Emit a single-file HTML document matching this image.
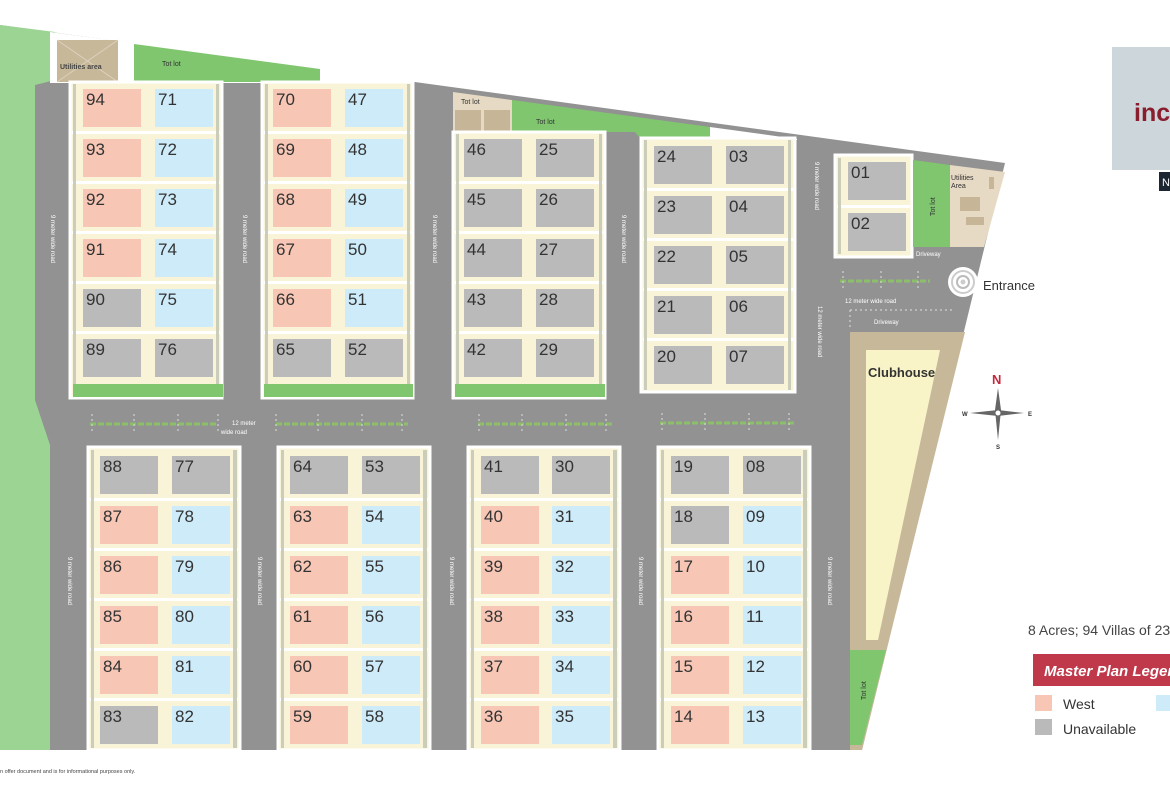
<!DOCTYPE html>
<html><head><meta charset="utf-8"><style>
html,body{margin:0;padding:0;background:#fff;}
svg{display:block;font-family:"Liberation Sans",sans-serif;}
.w{fill:#f7c6b5}.e{fill:#cdebf9}.g{fill:#bababa}
.n{font-size:17px;fill:#333;}
.cr{fill:#f9f4d8;stroke:#fff;stroke-width:3}
.rl{fill:#fff;font-size:6px}
.sep{fill:#fff}
.med{stroke:#8cbf6a;stroke-width:3;stroke-dasharray:6 2}
</style></head><body>
<svg width="1170" height="785" viewBox="0 0 1170 785">
<polygon points="0,25 1005,163 862,750 0,750" fill="#929292"/>
<polygon points="0,25 55,32 55,80 35,85 35,400 50,445 50,750 0,750" fill="#9bd493"/>
<polygon points="50,32 412,80 412,83 50,83" fill="#fff"/>
<rect x="57" y="40" width="61" height="42" fill="#c8b89a"/>
<g stroke="#ddd2bd" stroke-width="1"><line x1="57" y1="40" x2="118" y2="82"/><line x1="118" y1="40" x2="57" y2="82"/></g>
<text x="60" y="69" font-size="7" font-weight="bold" fill="#444">Utilities area</text>
<polygon points="134,44 320,69 320,82 134,82" fill="#7fc66f"/>
<text x="162" y="66" font-size="7" fill="#333">Tot lot</text>
<polygon points="453,92 512,100 512,132 453,132" fill="#e6dac4"/>
<rect x="455" y="110" width="26" height="21" fill="#c6b597"/><rect x="484" y="110" width="26" height="21" fill="#c6b597"/>
<text x="461" y="104" font-size="7" fill="#333">Tot lot</text>
<polygon points="512,100 710,127 710,138 640,138 635,132 512,132" fill="#7fc66f"/>
<text x="536" y="124" font-size="7" fill="#333">Tot lot</text>
<polygon points="710,127 797,139 797,140 710,140" fill="#fff"/>
<rect class="cr" x="70" y="82" width="152" height="316"/>
<rect x="73" y="384" width="150" height="13" fill="#7fc66f"/>
<rect class="cr" x="262" y="82" width="151" height="316"/>
<rect x="264" y="384" width="149" height="13" fill="#7fc66f"/>
<rect class="cr" x="453" y="132" width="152" height="266"/>
<rect x="455" y="384" width="150" height="13" fill="#7fc66f"/>
<rect class="cr" x="641" y="138" width="154" height="254"/>
<rect class="cr" x="835" y="155" width="77" height="102"/>
<polygon points="913,160 950,165 950,247 913,247" fill="#7fc66f"/>
<text transform="translate(935,216) rotate(-90)" font-size="7" fill="#333">Tot lot</text>
<polygon points="950,165 1005,172 984,247 950,247" fill="#e6dac4"/>
<rect x="960" y="197" width="20" height="14" fill="#c6b597"/><rect x="966" y="217" width="18" height="8" fill="#c6b597"/>
<rect x="989" y="177" width="5" height="12" fill="#c6b597"/>
<text x="951" y="180" font-size="7" fill="#333">Utilities</text><text x="951" y="188" font-size="7" fill="#333">Area</text>
<polygon points="850,332 965,332 862,750 850,750" fill="#c8b89a"/>
<polygon points="866,350 940,350 878,640 866,640" fill="#f9f4c8"/>
<text x="868" y="377" font-size="13" font-weight="bold" fill="#333">Clubhouse</text>
<polygon points="850,650 886,650 862,745 850,745" fill="#7fc66f"/>
<text transform="translate(866,700) rotate(-90)" font-size="7" fill="#333">Tot lot</text>
<rect class="cr" x="88" y="447" width="152" height="303"/>
<rect class="cr" x="278" y="447" width="152" height="303"/>
<rect class="cr" x="468" y="447" width="152" height="303"/>
<rect class="cr" x="658" y="447" width="152" height="303"/>
<g class="sep">
<rect x="72" y="131" width="148" height="3"/><rect x="72" y="181" width="148" height="3"/><rect x="72" y="231" width="148" height="3"/><rect x="72" y="281" width="148" height="3"/><rect x="72" y="331" width="148" height="3"/>
<rect x="264" y="131" width="147" height="3"/><rect x="264" y="181" width="147" height="3"/><rect x="264" y="231" width="147" height="3"/><rect x="264" y="281" width="147" height="3"/><rect x="264" y="331" width="147" height="3"/>
<rect x="455" y="181" width="148" height="3"/><rect x="455" y="231" width="148" height="3"/><rect x="455" y="281" width="148" height="3"/><rect x="455" y="331" width="148" height="3"/>
<rect x="643" y="188" width="150" height="3"/><rect x="643" y="238" width="150" height="3"/><rect x="643" y="288" width="150" height="3"/><rect x="643" y="338" width="150" height="3"/>
<rect x="837" y="205" width="73" height="3"/>
<rect x="90" y="498" width="148" height="3"/><rect x="90" y="548" width="148" height="3"/><rect x="90" y="598" width="148" height="3"/><rect x="90" y="648" width="148" height="3"/><rect x="90" y="698" width="148" height="3"/>
<rect x="280" y="498" width="148" height="3"/><rect x="280" y="548" width="148" height="3"/><rect x="280" y="598" width="148" height="3"/><rect x="280" y="648" width="148" height="3"/><rect x="280" y="698" width="148" height="3"/>
<rect x="470" y="498" width="148" height="3"/><rect x="470" y="548" width="148" height="3"/><rect x="470" y="598" width="148" height="3"/><rect x="470" y="648" width="148" height="3"/><rect x="470" y="698" width="148" height="3"/>
<rect x="660" y="498" width="148" height="3"/><rect x="660" y="548" width="148" height="3"/><rect x="660" y="598" width="148" height="3"/><rect x="660" y="648" width="148" height="3"/><rect x="660" y="698" width="148" height="3"/>
</g>
<g fill="#c9cdb9">
<rect x="73" y="84" width="3" height="300"/><rect x="216" y="84" width="3" height="300"/>
<rect x="265" y="84" width="3" height="300"/><rect x="407" y="84" width="3" height="300"/>
<rect x="456" y="134" width="3" height="250"/><rect x="599" y="134" width="3" height="250"/>
<rect x="644" y="140" width="3" height="250"/><rect x="788" y="140" width="3" height="250"/>
<rect x="838" y="158" width="3" height="96"/>
<rect x="91" y="450" width="3" height="298"/><rect x="233" y="450" width="4" height="298"/>
<rect x="281" y="450" width="3" height="298"/><rect x="423" y="450" width="4" height="298"/>
<rect x="471" y="450" width="3" height="298"/><rect x="613" y="450" width="4" height="298"/>
<rect x="661" y="450" width="3" height="298"/><rect x="803" y="450" width="4" height="298"/>
</g>
<g>
<rect class="w" x="83" y="89" width="58" height="38"/><rect class="e" x="155" y="89" width="58" height="38"/>
<rect class="w" x="83" y="139" width="58" height="38"/><rect class="e" x="155" y="139" width="58" height="38"/>
<rect class="w" x="83" y="189" width="58" height="38"/><rect class="e" x="155" y="189" width="58" height="38"/>
<rect class="w" x="83" y="239" width="58" height="38"/><rect class="e" x="155" y="239" width="58" height="38"/>
<rect class="g" x="83" y="289" width="58" height="38"/><rect class="e" x="155" y="289" width="58" height="38"/>
<rect class="g" x="83" y="339" width="58" height="38"/><rect class="g" x="155" y="339" width="58" height="38"/>
<rect class="w" x="273" y="89" width="58" height="38"/><rect class="e" x="345" y="89" width="58" height="38"/>
<rect class="w" x="273" y="139" width="58" height="38"/><rect class="e" x="345" y="139" width="58" height="38"/>
<rect class="w" x="273" y="189" width="58" height="38"/><rect class="e" x="345" y="189" width="58" height="38"/>
<rect class="w" x="273" y="239" width="58" height="38"/><rect class="e" x="345" y="239" width="58" height="38"/>
<rect class="w" x="273" y="289" width="58" height="38"/><rect class="e" x="345" y="289" width="58" height="38"/>
<rect class="g" x="273" y="339" width="58" height="38"/><rect class="g" x="345" y="339" width="58" height="38"/>
<rect class="g" x="464" y="139" width="58" height="38"/><rect class="g" x="536" y="139" width="58" height="38"/>
<rect class="g" x="464" y="189" width="58" height="38"/><rect class="g" x="536" y="189" width="58" height="38"/>
<rect class="g" x="464" y="239" width="58" height="38"/><rect class="g" x="536" y="239" width="58" height="38"/>
<rect class="g" x="464" y="289" width="58" height="38"/><rect class="g" x="536" y="289" width="58" height="38"/>
<rect class="g" x="464" y="339" width="58" height="38"/><rect class="g" x="536" y="339" width="58" height="38"/>
<rect class="g" x="654" y="146" width="58" height="38"/><rect class="g" x="726" y="146" width="58" height="38"/>
<rect class="g" x="654" y="196" width="58" height="38"/><rect class="g" x="726" y="196" width="58" height="38"/>
<rect class="g" x="654" y="246" width="58" height="38"/><rect class="g" x="726" y="246" width="58" height="38"/>
<rect class="g" x="654" y="296" width="58" height="38"/><rect class="g" x="726" y="296" width="58" height="38"/>
<rect class="g" x="654" y="346" width="58" height="38"/><rect class="g" x="726" y="346" width="58" height="38"/>
<rect class="g" x="848" y="162" width="58" height="38"/><rect class="g" x="848" y="213" width="58" height="38"/>
<rect class="g" x="100" y="456" width="58" height="38"/><rect class="g" x="172" y="456" width="58" height="38"/>
<rect class="w" x="100" y="506" width="58" height="38"/><rect class="e" x="172" y="506" width="58" height="38"/>
<rect class="w" x="100" y="556" width="58" height="38"/><rect class="e" x="172" y="556" width="58" height="38"/>
<rect class="w" x="100" y="606" width="58" height="38"/><rect class="e" x="172" y="606" width="58" height="38"/>
<rect class="w" x="100" y="656" width="58" height="38"/><rect class="e" x="172" y="656" width="58" height="38"/>
<rect class="g" x="100" y="706" width="58" height="38"/><rect class="e" x="172" y="706" width="58" height="38"/>
<rect class="g" x="290" y="456" width="58" height="38"/><rect class="g" x="362" y="456" width="58" height="38"/>
<rect class="w" x="290" y="506" width="58" height="38"/><rect class="e" x="362" y="506" width="58" height="38"/>
<rect class="w" x="290" y="556" width="58" height="38"/><rect class="e" x="362" y="556" width="58" height="38"/>
<rect class="w" x="290" y="606" width="58" height="38"/><rect class="e" x="362" y="606" width="58" height="38"/>
<rect class="w" x="290" y="656" width="58" height="38"/><rect class="e" x="362" y="656" width="58" height="38"/>
<rect class="w" x="290" y="706" width="58" height="38"/><rect class="e" x="362" y="706" width="58" height="38"/>
<rect class="g" x="481" y="456" width="58" height="38"/><rect class="g" x="552" y="456" width="58" height="38"/>
<rect class="w" x="481" y="506" width="58" height="38"/><rect class="e" x="552" y="506" width="58" height="38"/>
<rect class="w" x="481" y="556" width="58" height="38"/><rect class="e" x="552" y="556" width="58" height="38"/>
<rect class="w" x="481" y="606" width="58" height="38"/><rect class="e" x="552" y="606" width="58" height="38"/>
<rect class="w" x="481" y="656" width="58" height="38"/><rect class="e" x="552" y="656" width="58" height="38"/>
<rect class="w" x="481" y="706" width="58" height="38"/><rect class="e" x="552" y="706" width="58" height="38"/>
<rect class="g" x="671" y="456" width="58" height="38"/><rect class="g" x="743" y="456" width="58" height="38"/>
<rect class="g" x="671" y="506" width="58" height="38"/><rect class="e" x="743" y="506" width="58" height="38"/>
<rect class="w" x="671" y="556" width="58" height="38"/><rect class="e" x="743" y="556" width="58" height="38"/>
<rect class="w" x="671" y="606" width="58" height="38"/><rect class="e" x="743" y="606" width="58" height="38"/>
<rect class="w" x="671" y="656" width="58" height="38"/><rect class="e" x="743" y="656" width="58" height="38"/>
<rect class="w" x="671" y="706" width="58" height="38"/><rect class="e" x="743" y="706" width="58" height="38"/>
</g>
<g class="n">
<text x="86" y="105">94</text><text x="158" y="105">71</text>
<text x="86" y="155">93</text><text x="158" y="155">72</text>
<text x="86" y="205">92</text><text x="158" y="205">73</text>
<text x="86" y="255">91</text><text x="158" y="255">74</text>
<text x="86" y="305">90</text><text x="158" y="305">75</text>
<text x="86" y="355">89</text><text x="158" y="355">76</text>
<text x="276" y="105">70</text><text x="348" y="105">47</text>
<text x="276" y="155">69</text><text x="348" y="155">48</text>
<text x="276" y="205">68</text><text x="348" y="205">49</text>
<text x="276" y="255">67</text><text x="348" y="255">50</text>
<text x="276" y="305">66</text><text x="348" y="305">51</text>
<text x="276" y="355">65</text><text x="348" y="355">52</text>
<text x="467" y="155">46</text><text x="539" y="155">25</text>
<text x="467" y="205">45</text><text x="539" y="205">26</text>
<text x="467" y="255">44</text><text x="539" y="255">27</text>
<text x="467" y="305">43</text><text x="539" y="305">28</text>
<text x="467" y="355">42</text><text x="539" y="355">29</text>
<text x="657" y="162">24</text><text x="729" y="162">03</text>
<text x="657" y="212">23</text><text x="729" y="212">04</text>
<text x="657" y="262">22</text><text x="729" y="262">05</text>
<text x="657" y="312">21</text><text x="729" y="312">06</text>
<text x="657" y="362">20</text><text x="729" y="362">07</text>
<text x="851" y="178">01</text><text x="851" y="229">02</text>
<text x="103" y="472">88</text><text x="175" y="472">77</text>
<text x="103" y="522">87</text><text x="175" y="522">78</text>
<text x="103" y="572">86</text><text x="175" y="572">79</text>
<text x="103" y="622">85</text><text x="175" y="622">80</text>
<text x="103" y="672">84</text><text x="175" y="672">81</text>
<text x="103" y="722">83</text><text x="175" y="722">82</text>
<text x="293" y="472">64</text><text x="365" y="472">53</text>
<text x="293" y="522">63</text><text x="365" y="522">54</text>
<text x="293" y="572">62</text><text x="365" y="572">55</text>
<text x="293" y="622">61</text><text x="365" y="622">56</text>
<text x="293" y="672">60</text><text x="365" y="672">57</text>
<text x="293" y="722">59</text><text x="365" y="722">58</text>
<text x="484" y="472">41</text><text x="555" y="472">30</text>
<text x="484" y="522">40</text><text x="555" y="522">31</text>
<text x="484" y="572">39</text><text x="555" y="572">32</text>
<text x="484" y="622">38</text><text x="555" y="622">33</text>
<text x="484" y="672">37</text><text x="555" y="672">34</text>
<text x="484" y="722">36</text><text x="555" y="722">35</text>
<text x="674" y="472">19</text><text x="746" y="472">08</text>
<text x="674" y="522">18</text><text x="746" y="522">09</text>
<text x="674" y="572">17</text><text x="746" y="572">10</text>
<text x="674" y="622">16</text><text x="746" y="622">11</text>
<text x="674" y="672">15</text><text x="746" y="672">12</text>
<text x="674" y="722">14</text><text x="746" y="722">13</text>
</g>
<g class="med">
<line x1="90" y1="424" x2="218" y2="424"/><line x1="276" y1="424" x2="408" y2="424"/>
<line x1="478" y1="424" x2="612" y2="424"/><line x1="660" y1="423" x2="796" y2="423"/>
<line x1="840" y1="281" x2="930" y2="281"/>
</g>
<g stroke="#ddd" stroke-width="1" stroke-dasharray="2 3">
<line x1="92" y1="414" x2="92" y2="434"/><line x1="134" y1="414" x2="134" y2="434"/><line x1="178" y1="414" x2="178" y2="434"/><line x1="218" y1="414" x2="218" y2="434"/>
<line x1="276" y1="414" x2="276" y2="434"/><line x1="318" y1="414" x2="318" y2="434"/><line x1="362" y1="414" x2="362" y2="434"/><line x1="402" y1="414" x2="402" y2="434"/>
<line x1="479" y1="414" x2="479" y2="434"/><line x1="522" y1="414" x2="522" y2="434"/><line x1="566" y1="414" x2="566" y2="434"/><line x1="606" y1="414" x2="606" y2="434"/>
<line x1="662" y1="413" x2="662" y2="433"/><line x1="705" y1="413" x2="705" y2="433"/><line x1="749" y1="413" x2="749" y2="433"/><line x1="789" y1="413" x2="789" y2="433"/>
<line x1="843" y1="271" x2="843" y2="291"/><line x1="881" y1="271" x2="881" y2="291"/><line x1="918" y1="271" x2="918" y2="291"/>
<line x1="850" y1="310" x2="955" y2="310"/><line x1="850" y1="310" x2="850" y2="330"/>
</g>
<text x="232" y="425" class="rl" font-size="7">12 meter</text><text x="221" y="434" class="rl">wide road</text>
<text x="845" y="303" class="rl">12 meter wide road</text>
<text x="874" y="324" class="rl">Driveway</text>
<text x="916" y="256" class="rl">Driveway</text>
<g class="rl">
<text transform="translate(51,215) rotate(90)">9 meter wide road</text>
<text transform="translate(243,215) rotate(90)">9 meter wide road</text>
<text transform="translate(433,215) rotate(90)">9 meter wide road</text>
<text transform="translate(622,215) rotate(90)">9 meter wide road</text>
<text transform="translate(815,162) rotate(90)">9 meter wide road</text>
<text transform="translate(818,306) rotate(90)">12 meter wide road</text>
<text transform="translate(68,557) rotate(90)">9 meter wide road</text>
<text transform="translate(258,557) rotate(90)">9 meter wide road</text>
<text transform="translate(450,557) rotate(90)">9 meter wide road</text>
<text transform="translate(639,557) rotate(90)">9 meter wide road</text>
<text transform="translate(828,557) rotate(90)">9 meter wide road</text>
</g>
<circle cx="963" cy="282" r="15" fill="#fff"/>
<circle cx="963" cy="282" r="11" fill="none" stroke="#ccc" stroke-width="2"/>
<circle cx="963" cy="282" r="6" fill="none" stroke="#bbb" stroke-width="2"/>
<circle cx="963" cy="282" r="2.5" fill="#ccc"/>
<text x="983" y="290" font-size="13" fill="#333">Entrance</text>
<text x="992" y="384" font-size="13" font-weight="bold" fill="#c8283c">N</text>
<polygon points="998,388 1001,410 998,440 995,410" fill="#666"/>
<polygon points="970,413 998,410 1024,413 998,416" fill="#666"/>
<circle cx="998" cy="413" r="3" fill="#fff" stroke="#666"/>
<text x="962" y="416" font-size="6" font-weight="bold" fill="#333">W</text>
<text x="1028" y="416" font-size="6" font-weight="bold" fill="#333">E</text>
<text x="996" y="449" font-size="6" font-weight="bold" fill="#333">S</text>
<rect x="1112" y="47" width="58" height="123" fill="#cdd6da"/>
<text x="1134" y="121" font-size="25" font-weight="bold" fill="#8a1d2e">inc</text>
<rect x="1159" y="172" width="11" height="19" fill="#1d2633"/>
<text x="1162" y="186" font-size="11" fill="#fff">N</text>
<text x="1028" y="635" font-size="14" fill="#444">8 Acres; 94 Villas of 23</text>
<rect x="1033" y="654" width="137" height="32" fill="#c0394a"/>
<text x="1044" y="676" font-size="15" font-weight="bold" font-style="italic" fill="#fff">Master Plan Legend</text>
<rect x="1035" y="695" width="17" height="16" fill="#f7c6b5"/>
<text x="1063" y="709" font-size="14" fill="#333">West</text>
<rect x="1156" y="695" width="14" height="16" fill="#cdebf9"/>
<rect x="1035" y="719" width="17" height="16" fill="#bababa"/>
<text x="1063" y="734" font-size="14" fill="#333">Unavailable</text>
<text x="0" y="773" font-size="5.5" fill="#444">n offer document and is for informational purposes only.</text>
</svg>
</body></html>
